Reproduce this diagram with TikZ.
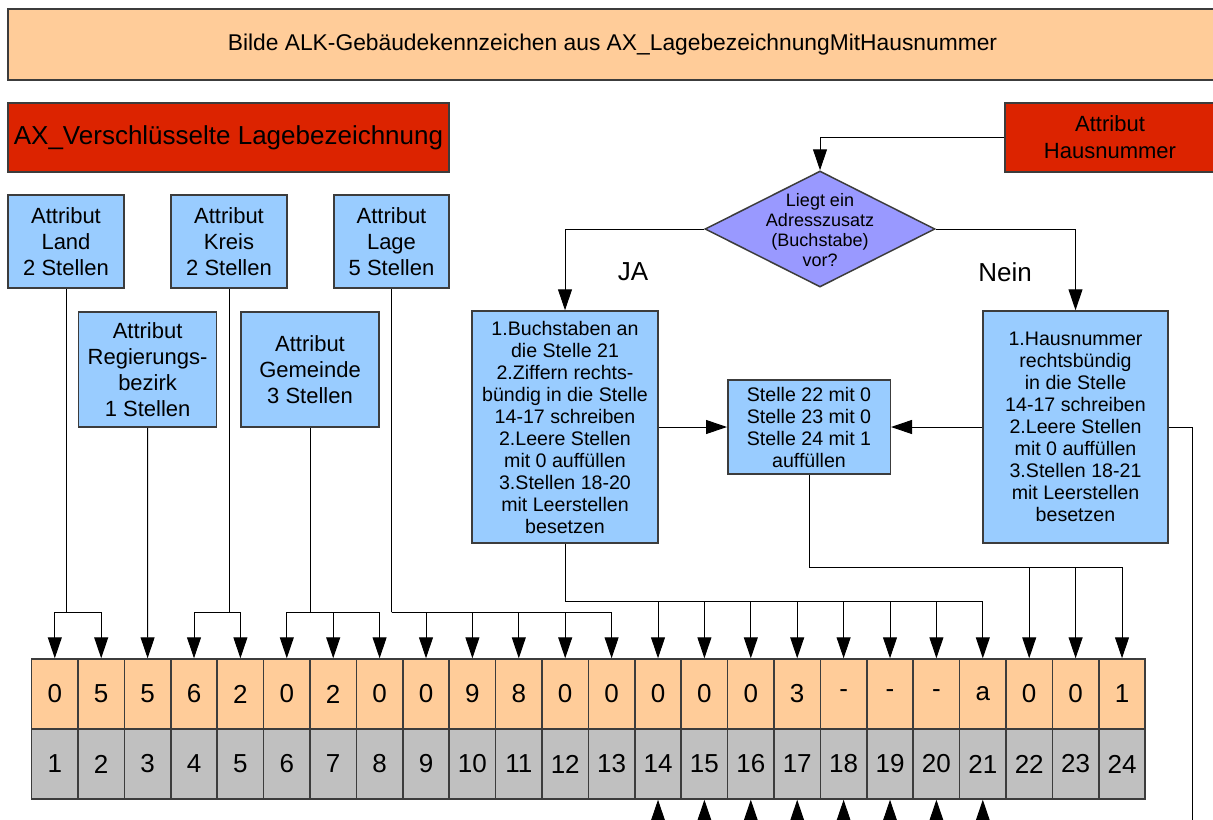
\documentclass[tikz,border=0pt]{standalone}
\usepackage{fontspec}
\setmainfont{Liberation Sans}
\usetikzlibrary{shapes.geometric,arrows.meta}
\definecolor{kopforange}{RGB}{255,204,153}
\definecolor{attrblau}{RGB}{153,204,255}
\definecolor{objrot}{RGB}{220,35,0}
\definecolor{fragelila}{RGB}{153,153,255}
\definecolor{nrgrau}{RGB}{192,192,192}
\definecolor{rand}{RGB}{60,60,60}

\begin{document}
\begin{tikzpicture}[x=0.5pt,y=-0.5pt,
    sz/.style 2 args={minimum width=#1*0.5pt, minimum height=#2*0.5pt},
    box/.style={draw=rand, line width=0.75pt, inner sep=0pt, align=center},
    attr/.style={box, fill=attrblau, font=\fontsize{11}{13}\selectfont},
    regel/.style={box, fill=attrblau, font=\fontsize{9.8}{11}\selectfont},
    wert/.style={box, fill=kopforange, sz={46.4}{70}, font=\fontsize{13}{15}\selectfont},
    stelle/.style={box, fill=nrgrau, sz={46.4}{70}, font=\fontsize{13}{15}\selectfont},
    pfeil/.style={-{Triangle[length=10.5pt,width=7pt]}, line width=0.5pt},
    linie/.style={line width=0.5pt}]
    \useasboundingbox (0,0) rectangle (1213,819);

    %% title and source objects
    \node[box, fill=kopforange, sz={1209}{71}, font=\fontsize{11.4}{13}\selectfont]
      (titel) at (612.5,44.5) {Bilde ALK-Gebäudekennzeichen aus AX\_LagebezeichnungMitHausnummer};
    \node[box, fill=objrot, sz={441}{69}, font=\fontsize{13}{15}\selectfont]
      (objekt) at (228.5,137.5) {AX\_Verschlüsselte Lagebezeichnung};
    \node[box, fill=objrot, sz={210}{69}, font=\fontsize{11}{13.5}\selectfont]
      (hnr) at (1110,137.5) {Attribut\\Hausnummer};

    %% attributes of the encoded address
    \node[attr, sz={116}{93}] (land) at (66,241.5) {Attribut\\Land\\2 Stellen};
    \node[attr, sz={116}{93}] (kreis) at (229,241.5) {Attribut\\Kreis\\2 Stellen};
    \node[attr, sz={115}{93}] (lage) at (391.5,241.5) {Attribut\\Lage\\5 Stellen};
    \node[attr, sz={138}{115}] (regbez) at (147.6,369.5) {Attribut\\Regierungs-\\bezirk\\1 Stellen};
    \node[attr, sz={138}{115}] (gemeinde) at (310,369.5) {Attribut\\Gemeinde\\3 Stellen};

    %% decision on the house number
    \node[diamond, draw=rand, line width=0.75pt, fill=fragelila, inner sep=0pt, sz={230}{116}]
      (frage) at (820,229) {};
    \node[font=\fontsize{9}{10}\selectfont, align=center] (fragetext) at (820,230)
      {Liegt ein\\Adresszusatz\\(Buchstabe)\\vor?};
    \node[font=\fontsize{13}{15}\selectfont] (jalabel) at (633,272) {JA};
    \node[font=\fontsize{13}{15}\selectfont] (neinlabel) at (1005,272) {Nein};

    \node[regel, sz={186}{232}] (ja) at (565,427)
      {1.Buchstaben an\\die Stelle 21\\2.Ziffern rechts-\\bündig in die Stelle\\14-17 schreiben\\2.Leere Stellen\\mit 0 auffüllen\\3.Stellen 18-20\\mit Leerstellen\\besetzen};
    \node[regel, sz={162.5}{94}] (mitte) at (809,427)
      {Stelle 22 mit 0\\Stelle 23 mit 0\\Stelle 24 mit 1\\auffüllen};
    \node[regel, sz={185}{232}] (nein) at (1075.5,427)
      {1.Hausnummer\\rechtsbündig\\in die Stelle\\14-17 schreiben\\2.Leere Stellen\\mit 0 auffüllen\\3.Stellen 18-21\\mit Leerstellen\\besetzen};

    %% the 24 places of the code
    \foreach \w [count=\i] in {0,5,5,6,2,0,2,0,0,9,8,0,0,0,0,0,3,-,-,-,a,0,0,1} {
      \node[wert] (w\i) at ({31.6+(\i-0.5)*46.4},694) {\w};
      \node[stelle] (p\i) at ({31.6+(\i-0.5)*46.4},764) {\i};
    }

    %% connectors
    \draw[pfeil] (hnr.west) -| (frage.north);
    \draw[pfeil] (frage.west) -| (ja.north);
    \draw[pfeil] (frage.east) -| (nein.north);
    \draw[pfeil] (ja.east) -- (mitte.west);
    \draw[pfeil] (nein.west) -- (mitte.east);

    \coordinate (jland) at (66,612);
    \coordinate (jkreis) at (229,612);
    \coordinate (jgemeinde) at (310,612);
    \coordinate (jlage) at (391.5,612);
    \coordinate (jja) at (565,601);
    \coordinate (jmitte) at (809,567);
    \coordinate (unten) at (1192,850);

    \draw[linie] (land.south) -- (jland);
    \foreach \i in {1,2} \draw[pfeil] (jland) -| (w\i.north);
    \draw[pfeil] (regbez.south) -- (w3.north);
    \draw[linie] (kreis.south) -- (jkreis);
    \foreach \i in {4,5} \draw[pfeil] (jkreis) -| (w\i.north);
    \draw[linie] (gemeinde.south) -- (jgemeinde);
    \foreach \i in {6,7,8} \draw[pfeil] (jgemeinde) -| (w\i.north);
    \draw[linie] (lage.south) -- (jlage);
    \foreach \i in {9,...,13} \draw[pfeil] (jlage) -| (w\i.north);
    \draw[linie] (ja.south) -- (jja);
    \foreach \i in {14,...,21} \draw[pfeil] (jja) -| (w\i.north);
    \draw[linie] (mitte.south) -- (jmitte);
    \foreach \i in {22,23,24} \draw[pfeil] (jmitte) -| (w\i.north);

    \draw[linie] (nein.east) -| (unten);
    \foreach \i in {14,...,21} \draw[pfeil] (p\i.south |- unten) -- (p\i.south);
\end{tikzpicture}
\end{document}
